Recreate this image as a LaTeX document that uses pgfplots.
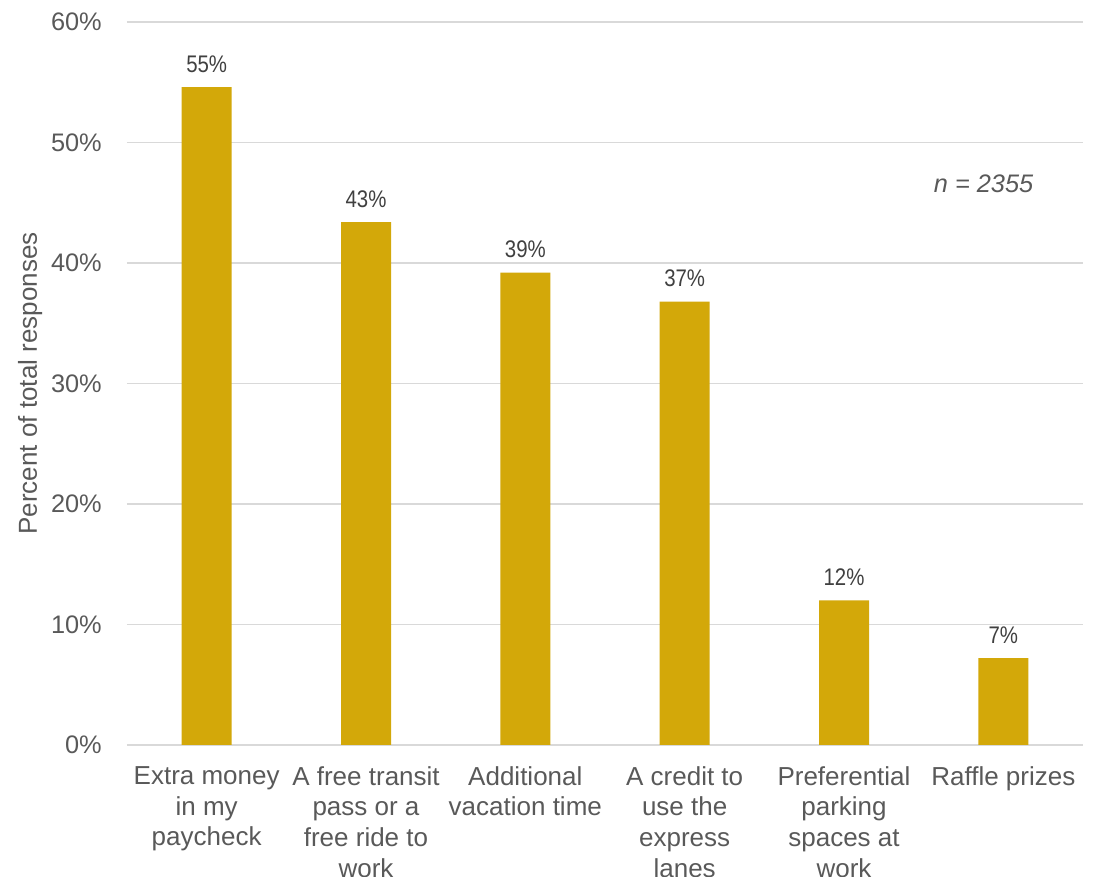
\documentclass[border=0pt]{standalone}
\usepackage{pgfplots}
\pgfplotsset{compat=1.18}
\usepackage{fontspec}
\setmainfont{Liberation Sans}
\newfontfamily\narrowfont[FakeStretch=0.85]{Liberation Sans}
\definecolor{barcol}{HTML}{D3A809}
\definecolor{txt}{HTML}{595959}
\definecolor{lbl}{HTML}{404040}
\definecolor{gridc}{HTML}{D9D9D9}
\begin{document}
\begin{tikzpicture}
\path[use as bounding box] (-95.25pt,-99pt) rectangle (726pt,558.75pt);
\begin{axis}[
  scale only axis,
  width=717pt, height=542.25pt,
  xmin=-0.5, xmax=5.5, ymin=0, ymax=60,
  ybar, bar width=37.5pt,
  axis line style={draw=none},
  major tick length=0pt,
  ymajorgrids,
  grid style={gridc, line width=1.1pt},
  xtick={0,1,2,3,4,5},
  xticklabels={{Extra money\\in my\\paycheck},{A free transit\\pass or a\\free ride to\\work},{Additional\\vacation time},{A credit to\\use the\\express\\lanes},{Preferential\\parking\\spaces at\\work},{Raffle prizes}},
  xticklabel style={align=center, anchor=north, inner sep=0pt, yshift=-16pt, text=txt, font=\fontsize{19.5}{22.9}\selectfont},
  ytick={0,10,20,30,40,50,60},
  yticklabels={0\%,10\%,20\%,30\%,40\%,50\%,60\%},
  yticklabel style={anchor=east, inner sep=0pt, xshift=-18.75pt, text=txt, font=\fontsize{19}{22}\selectfont},
  every axis y label/.style={at={([xshift=-67.5pt]axis description cs:0,0.5)}, rotate=90, anchor=base, inner sep=0pt, text=txt, font=\fontsize{19.5}{22}\selectfont},
  ylabel={Percent of total responses},
  point meta=explicit symbolic,
  nodes near coords,
  nodes near coords style={anchor=base, inner sep=0pt, yshift=11.25pt, text=lbl, font=\narrowfont\fontsize{18}{20}\selectfont},
]
\addplot[fill=barcol, draw=none] coordinates {
  (0,54.6) [55\%]
  (1,43.4) [43\%]
  (2,39.2) [39\%]
  (3,36.8) [37\%]
  (4,12.0) [12\%]
  (5,7.2) [7\%]
};
\node[anchor=base, text=txt, font=\itshape\fontsize{19}{22}\selectfont] at (rel axis cs:0.896,0.7635) {n = 2355};
\end{axis}
\end{tikzpicture}
\end{document}
